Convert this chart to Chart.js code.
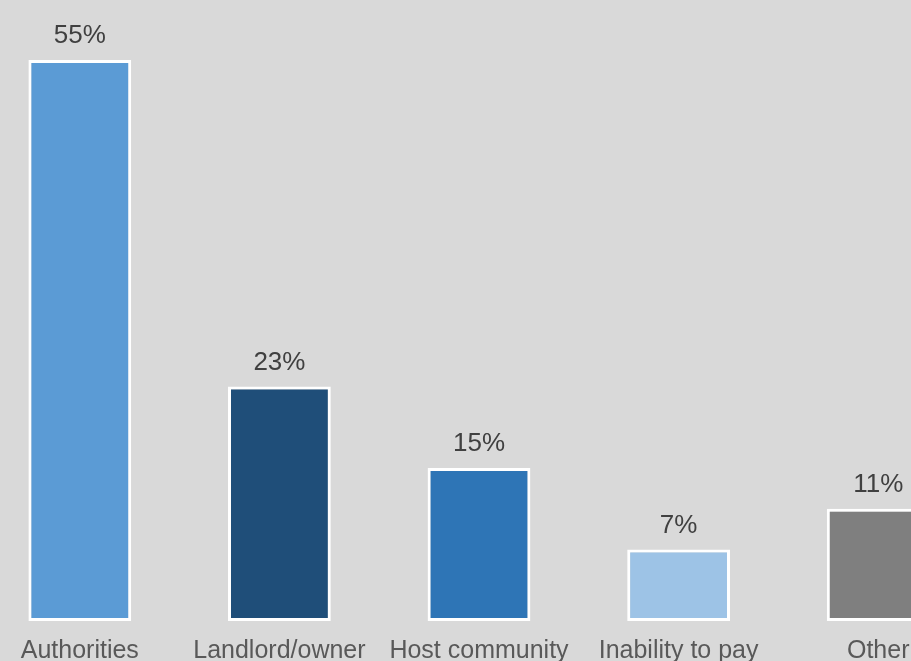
<!DOCTYPE html>
<html>
<head>
<meta charset="utf-8">
<script src="https://cdn.jsdelivr.net/npm/chart.js@4"></script>
<style>
    html, body { margin: 0; padding: 0; background: #d9d9d9; overflow: hidden; width: 911px; height: 661px; }
    #wrap { position: absolute; left: -20px; top: 0; width: 998px; height: 700px; }
</style>
</head>
<body>
<div id="wrap"><canvas id="barChart"></canvas></div>
<script>
const categories = ['Authorities', 'Landlord/owner', 'Host community', 'Inability to pay', 'Other'];
const shares = [55, 23, 15, 7, 11];
const barColors = ['#5b9bd5', '#1f4e79', '#2e75b6', '#9dc3e6', '#7f7f7f'];

// Etykiety wartości nad słupkami
const valueLabels = {
    id: 'valueLabels',
    afterDatasetsDraw(chart) {
        const ctx = chart.ctx;
        const meta = chart.getDatasetMeta(0);
        ctx.save();
        ctx.font = '26px "Liberation Sans", Arial, sans-serif';
        ctx.fillStyle = '#404040';
        ctx.textAlign = 'center';
        ctx.textBaseline = 'bottom';
        meta.data.forEach((bar, i) => {
            ctx.fillText(shares[i] + '%', bar.x, bar.y - 11);
        });
        ctx.restore();
    }
};

new Chart(document.getElementById('barChart'), {
    type: 'bar',
    data: {
        labels: categories,
        datasets: [{
            data: shares,
            backgroundColor: barColors,
            borderColor: '#ffffff',
            borderWidth: 3,
            borderSkipped: false,
            categoryPercentage: 1,
            barPercentage: 0.515
        }]
    },
    options: {
        responsive: true,
        maintainAspectRatio: false,
        animation: false,
        layout: { padding: { top: 9, left: 0, right: 0, bottom: 0 } },
        plugins: {
            legend: { display: false },
            tooltip: { enabled: false }
        },
        scales: {
            y: {
                display: false,
                min: 0,
                max: 60
            },
            x: {
                grid: { display: false, drawTicks: false },
                border: { display: false },
                ticks: {
                    color: '#595959',
                    font: { family: '"Liberation Sans", Arial, sans-serif', size: 25 },
                    padding: 15,
                    maxRotation: 0,
                    autoSkip: false
                },
                afterFit(axis) { axis.height = 79; }
            }
        }
    },
    plugins: [valueLabels]
});
</script>
</body>
</html>
